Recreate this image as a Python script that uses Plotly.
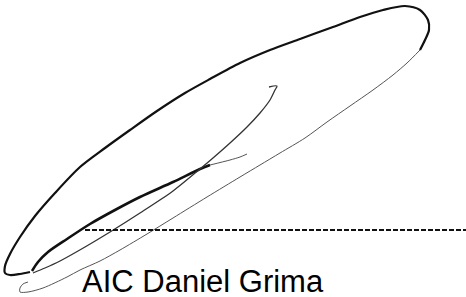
import plotly.graph_objects as go

# Signature strokes (pixel coordinates)
outer_loop_x = [30, 20, 10, 5, 5, 10, 20, 35, 55, 80, 105, 130, 157, 185, 210, 240, 270, 300, 333, 360, 383, 405, 420, 428, 429, 425, 420]
outer_loop_y = [272, 274, 275, 273, 266, 254, 237, 216, 193, 167, 148, 130, 111, 93, 79, 63, 50, 39, 27, 17, 10, 6, 10, 20, 30, 40, 50]

outer_return_x = [420, 407, 393, 373, 350, 327, 305, 280, 260, 240, 207, 173, 147, 120, 100, 80, 67, 43, 28, 20, 20, 23, 28]
outer_return_y = [50, 63, 75, 90, 106, 122, 138, 153, 165, 177, 197, 218, 234, 250, 261, 270, 277, 288, 292, 292, 288, 284, 282]

middle_x = [32, 38, 48, 67, 90, 115, 140, 173, 200, 210]
middle_y = [271, 262, 252, 239, 224, 210, 197, 182, 169, 165]

middle_tail_x = [210, 230, 240, 247]
middle_tail_y = [165, 160, 157, 154]

inner_x = [269, 277, 275, 270, 260, 247, 230, 213, 200, 173, 140, 110, 85, 60, 45, 33]
inner_y = [87, 86, 90, 100, 113, 127, 143, 158, 169, 191, 213, 232, 247, 261, 268, 273]

baseline_x = [85, 466]
baseline_y = [230, 230]

name_label = "AIC Daniel Grima"
name_x = 80
name_y = 281

fig = go.Figure()

def stroke(xs, ys, width, color, smoothing=0.8):
    fig.add_trace(go.Scatter(x=xs, y=ys, mode="lines",
                             line=dict(color=color, width=width, shape="spline", smoothing=smoothing),
                             hoverinfo="skip", showlegend=False))

stroke(outer_loop_x, outer_loop_y, 2.2, "#111111")
stroke(outer_return_x, outer_return_y, 1.0, "#555555")
stroke(middle_x, middle_y, 2.6, "#111111")
stroke(middle_tail_x, middle_tail_y, 1.0, "#555555")
stroke(inner_x, inner_y, 1.3, "#333333")

fig.add_trace(go.Scatter(x=baseline_x, y=baseline_y, mode="lines",
                         line=dict(color="#111111", width=2, dash="5px,2px"),
                         hoverinfo="skip", showlegend=False))

fig.add_annotation(x=name_x, y=name_y, xref="x", yref="y", text=name_label,
                   showarrow=False, xanchor="left", yanchor="middle",
                   font=dict(family="Liberation Sans, Arial, sans-serif", size=31, color="#000000"))

fig.update_layout(width=466, height=297, margin=dict(l=0, r=0, t=0, b=0),
                  paper_bgcolor="white", plot_bgcolor="white")
fig.update_xaxes(range=[0, 466], visible=False, fixedrange=True)
fig.update_yaxes(range=[297, 0], visible=False, fixedrange=True)

fig.write_html("out.html", config={"displayModeBar": False},
               post_script="document.body.style.margin='0';document.body.style.overflow='hidden';")
